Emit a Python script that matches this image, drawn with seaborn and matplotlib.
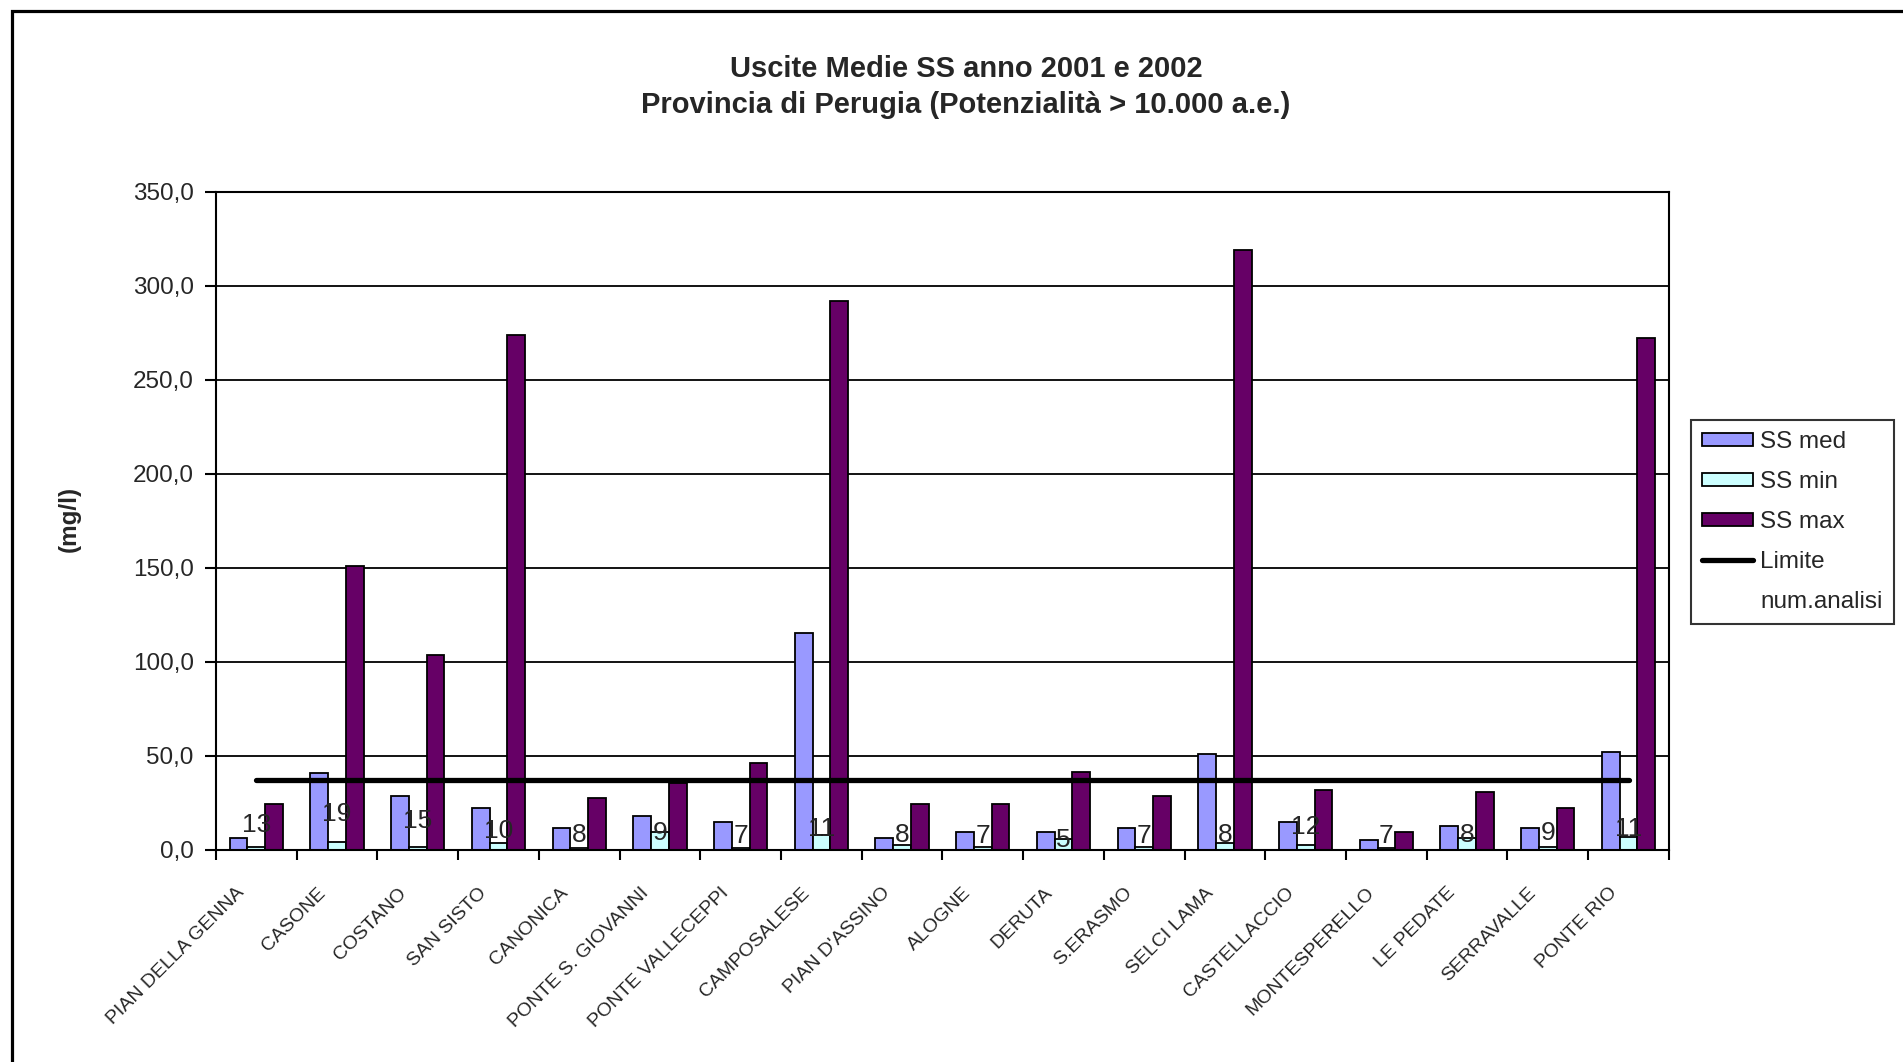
import pandas as pd
import seaborn as sns
import matplotlib.pyplot as plt
import numpy as np
from matplotlib.lines import Line2D
from matplotlib.patches import Patch, Rectangle
from matplotlib.ticker import FuncFormatter, MultipleLocator
from matplotlib import font_manager

# Dati: uscite medie SS (mg/l), impianti > 10.000 a.e.
impianti = ['PIAN DELLA GENNA', 'CASONE', 'COSTANO', 'SAN SISTO', 'CANONICA',
            'PONTE S. GIOVANNI', 'PONTE VALLECEPPI', 'CAMPOSALESE', "PIAN D'ASSINO",
            'ALOGNE', 'DERUTA', 'S.ERASMO', 'SELCI LAMA', 'CASTELLACCIO',
            'MONTESPERELLO', 'LE PEDATE', 'SERRAVALLE', 'PONTE RIO']
ss_med = [6.1, 40.5, 28.6, 22.1, 11.4, 17.9, 14.6, 115.5, 6.1,
          9.3, 9.3, 11.4, 51.1, 14.6, 5.0, 12.5, 11.4, 52.1]
ss_min = [1.6, 3.9, 1.6, 3.6, 0.9, 9.3, 0.9, 8.0, 2.7,
          1.4, 5.4, 1.6, 3.6, 2.7, 0.9, 6.1, 1.4, 6.8]
ss_max = [24.5, 151.1, 103.3, 273.7, 27.5, 35.2, 45.9, 291.8, 24.5,
          24.5, 41.4, 28.6, 318.9, 31.8, 9.5, 30.7, 22.1, 272.4]
limite = [37] * len(impianti)
num_analisi = [13, 19, 15, 10, 8, 9, 7, 11, 8, 7, 5, 7, 8, 12, 7, 8, 9, 11]

serie = ['SS med', 'SS min', 'SS max']
colori = {'SS med': '#9999FF', 'SS min': '#CCFFFF', 'SS max': '#660066'}

#########################################

df = pd.DataFrame({
    'impianto': impianti * 3,
    'valore': ss_med + ss_min + ss_max,
    'serie': [s for s in serie for _ in impianti],
})

sns.set_style('white')
nomi = {f.name for f in font_manager.fontManager.ttflist}
base = 'Liberation Sans' if 'Liberation Sans' in nomi else 'DejaVu Sans'
plt.rcParams['font.family'] = [base, 'DejaVu Sans']

fig = plt.figure(figsize=(19.03, 10.62), dpi=100)
ax = fig.add_axes([0.1135, 0.200, 0.7635, 0.6194])

sns.barplot(data=df, x='impianto', y='valore', hue='serie', palette=colori,
            width=0.66, edgecolor='black', linewidth=1.3, ax=ax, legend=False,
            saturation=1)

x = np.arange(len(impianti))
ax.plot(x, limite, color='black', linewidth=3.8, solid_capstyle='round', zorder=5)
for xi, n in zip(x, num_analisi):
    ax.text(xi, n, str(n), ha='center', va='center', fontsize=19, zorder=6)

ax.set_xlim(-0.5, len(impianti) - 0.5)
ax.set_ylim(0, 350)
ax.yaxis.set_major_locator(MultipleLocator(50))
ax.yaxis.set_major_formatter(FuncFormatter(lambda v, p: f'{v:.1f}'.replace('.', ',')))
ax.grid(axis='y', color='black', linewidth=1.3)
ax.set_axisbelow(True)
for s in ax.spines.values():
    s.set_color('black')
    s.set_linewidth(1.5)
ax.set_xlabel('')
ax.set_ylabel('')

# tacche ai confini delle categorie, etichette ruotate (spostate a sinistra come in Excel)
ax.set_xticks(np.arange(len(impianti) + 1) - 0.5, minor=False)
ax.set_xticklabels([])
ax.set_xticks(x - 0.25, minor=True)
ax.set_xticklabels(impianti, minor=True, rotation=45, ha='right',
                   rotation_mode='anchor', fontsize=14)
ax.tick_params(axis='x', which='minor', length=0, pad=25)
ax.tick_params(axis='x', which='major', direction='out', length=7, width=1.5,
               color='black', bottom=True)
ax.tick_params(axis='y', direction='out', length=8, width=1.5, color='black',
               left=True, labelsize=17.5, pad=8)

handles = [Patch(facecolor=colori[s], edgecolor='black', linewidth=1.3) for s in serie]
handles += [Line2D([], [], color='black', linewidth=3.8, solid_capstyle='round'),
            Line2D([], [], linestyle='none')]
leg = fig.legend(handles, serie + ['Limite', 'num.analisi'], loc='upper left',
                 bbox_to_anchor=(0.8886, 0.6045), fontsize=17.5, frameon=True,
                 fancybox=False, edgecolor='black', borderaxespad=0,
                 handlelength=2.1, handleheight=0.42, handletextpad=0.3,
                 labelspacing=0.74, borderpad=0.45)
leg.get_frame().set_linewidth(1.5)

fig.text(0.5076, 0.918, 'Uscite Medie SS anno 2001 e 2002\nProvincia di Perugia (Potenzialità > 10.000 a.e.)',
         ha='center', va='center', fontsize=21, fontweight='bold', linespacing=1.33)
fig.text(69 / 1903, 1 - 519 / 1062, '(mg/l)', rotation=90, ha='center', va='center',
         fontsize=17.5, fontweight='bold')

fig.patches.append(Rectangle((12 / 1903, -0.1), 1.2, 1 - 11 / 1062 + 0.1,
                             transform=fig.transFigure, fill=False,
                             edgecolor='black', linewidth=2.3))

plt.savefig('out.png', dpi=100)
